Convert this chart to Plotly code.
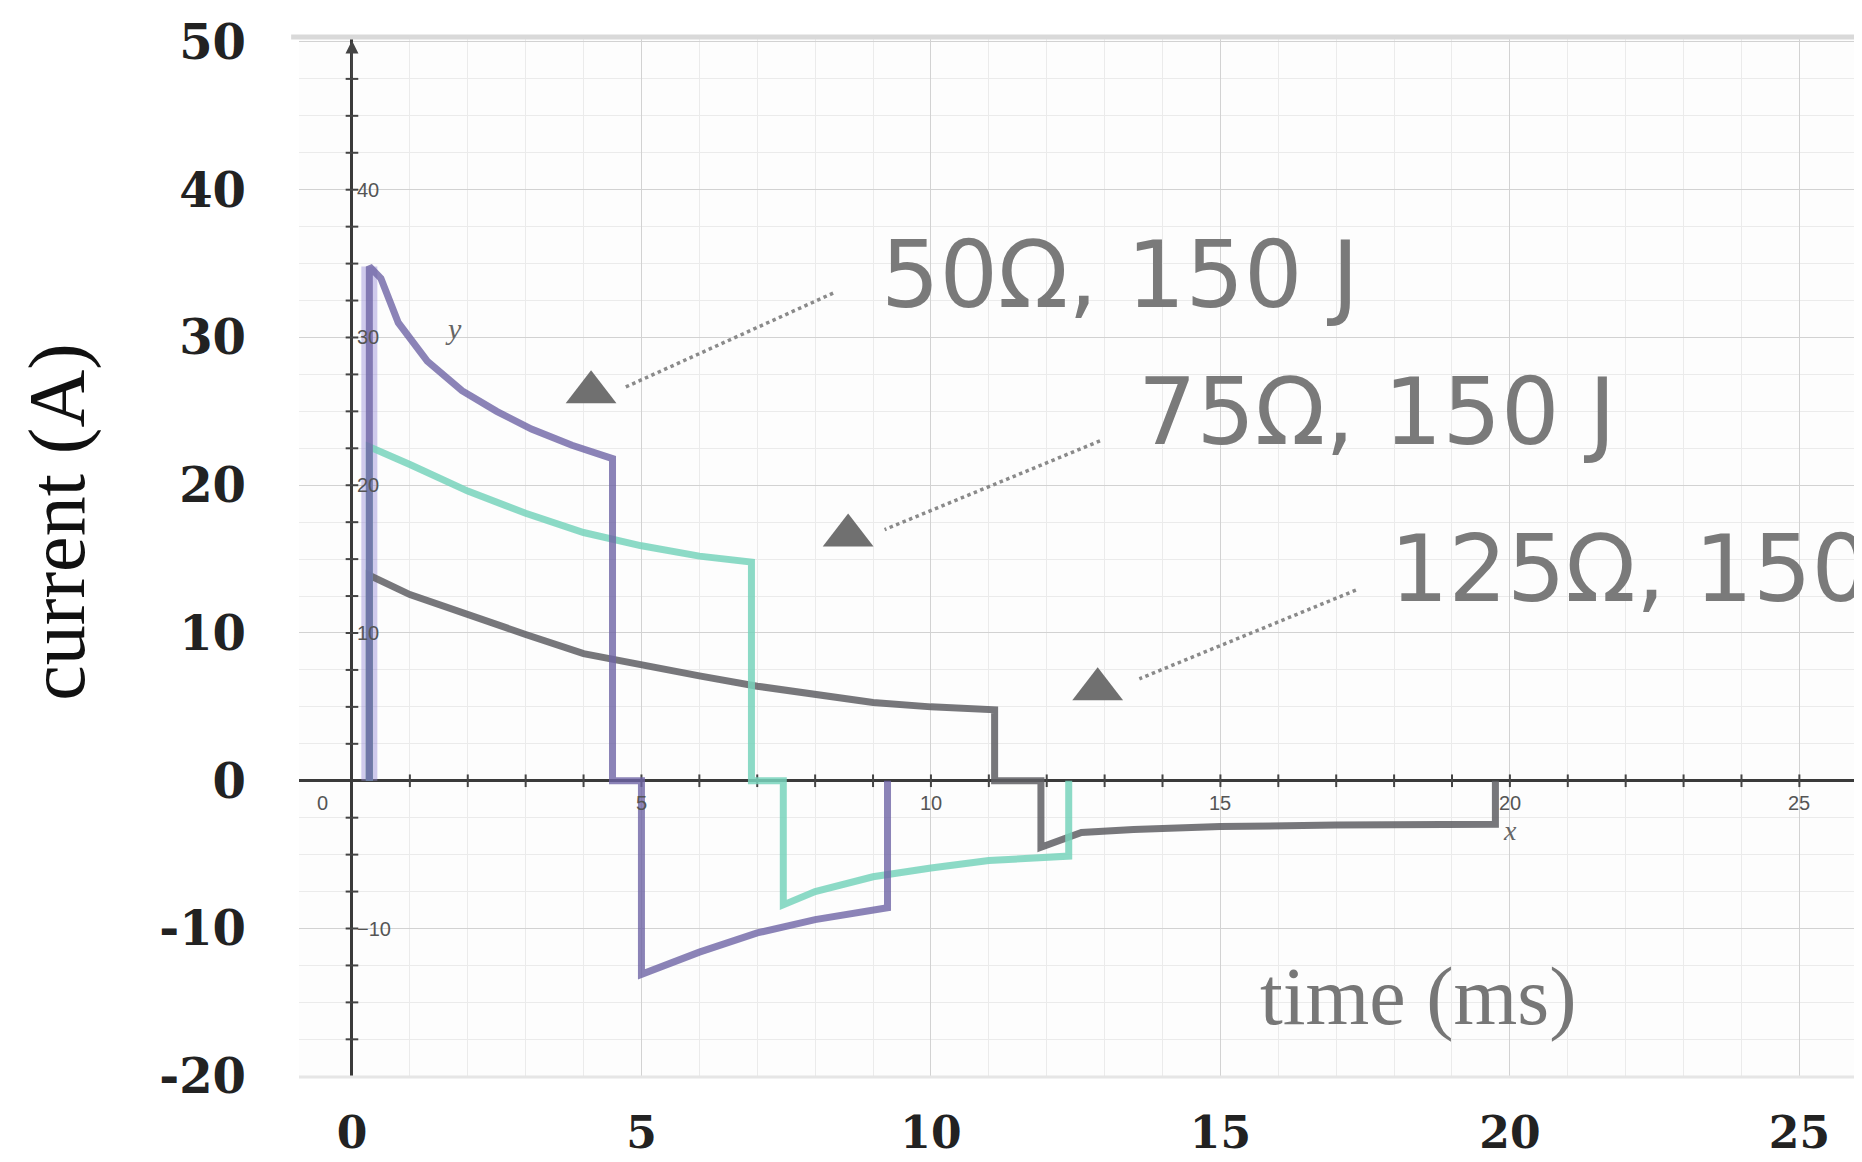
import plotly.graph_objects as go

# ---------------- data ----------------
t_50 = [0.3, 0.3, 0.5, 0.8, 1.3, 1.9, 2.5, 3.1, 3.8, 4.5, 4.5, 5.0, 5.0, 6.0, 7.0, 8.0, 9.25, 9.25]
i_50 = [0, 34.8, 34.0, 31.0, 28.4, 26.4, 25.0, 23.8, 22.7, 21.8, 0, 0, -13.1, -11.6, -10.3, -9.4, -8.6, 0]

t_75 = [0.3, 0.3, 1.0, 2.0, 3.0, 4.0, 5.0, 6.0, 6.9, 6.9, 7.45, 7.45, 8.0, 9.0, 10.0, 11.0, 12.38, 12.38]
i_75 = [0, 22.6, 21.4, 19.6, 18.1, 16.8, 15.9, 15.2, 14.8, 0, 0, -8.4, -7.5, -6.5, -5.9, -5.4, -5.1, 0]

t_125 = [0.3, 0.3, 1.0, 2.0, 3.0, 4.0, 5.0, 6.0, 7.0, 8.0, 9.0, 10.0, 11.1, 11.1, 11.9, 11.9,
         12.3, 12.6, 13.5, 15.0, 17.0, 19.75, 19.75]
i_125 = [0, 13.9, 12.6, 11.2, 9.9, 8.6, 7.8, 7.1, 6.4, 5.8, 5.3, 5.0, 4.8, 0, 0, -4.5,
         -3.9, -3.5, -3.3, -3.1, -3.0, -2.95, 0]

labels = ["50Ω, 150 J", "75Ω, 150 J", "125Ω, 150 J"]
label_x = [9.1, 13.55, 17.9]
label_y = [34.2, 24.9, 14.3]
arrow_start_x = [8.31, 12.92, 17.34]
arrow_start_y = [33.0, 23.0, 12.9]
arrow_end_x = [4.7, 9.2, 13.6]
arrow_end_y = [26.6, 17.0, 6.9]
head_x = [4.13, 8.57, 12.88]
head_y = [26.3, 16.6, 6.2]

outer_x_ticks = [0, 5, 10, 15, 20, 25]
outer_y_ticks = [-20, -10, 0, 10, 20, 30, 40, 50]
outer_y_text = ["-20", "-10", "0", "10", "20", "30", "40", "50"]
inner_x_ticks = [5, 10, 15, 20, 25]
inner_y_ticks = [40, 30, 20, 10, -10]
axis_tick_x = list(range(1, 27))
axis_tick_y = [-17.5, -15, -12.5, -10, -7.5, -5, -2.5, 2.5, 5, 7.5, 10, 12.5, 15, 17.5,
               20, 22.5, 25, 27.5, 30, 32.5, 35, 37.5, 40, 42.5, 45, 47.5]

x_title = "time (ms)"
y_title = "current (A)"

# ---------------- figure ----------------
fig = go.Figure()

# Desmos-style axis tick marks
fig.add_trace(go.Scatter(x=axis_tick_x, y=[0] * len(axis_tick_x), mode="markers",
                         marker=dict(symbol="line-ns-open", size=9, color="#444",
                                     line=dict(width=2, color="#444")),
                         hoverinfo="skip", showlegend=False))
fig.add_trace(go.Scatter(x=[0] * len(axis_tick_y), y=axis_tick_y, mode="markers",
                         marker=dict(symbol="line-ew-open", size=9, color="#444",
                                     line=dict(width=2, color="#444")),
                         hoverinfo="skip", showlegend=False))

# curves
fig.add_trace(go.Scatter(x=t_50[:2], y=i_50[:2], mode="lines",
                         line=dict(color="rgba(150,140,215,0.45)", width=16),
                         hoverinfo="skip", showlegend=False))
fig.add_trace(go.Scatter(x=t_125, y=i_125, mode="lines", name=labels[2],
                         line=dict(color="rgba(95,95,100,0.85)", width=7), showlegend=False))
fig.add_trace(go.Scatter(x=t_75, y=i_75, mode="lines", name=labels[1],
                         line=dict(color="rgba(120,212,188,0.85)", width=7), showlegend=False))
fig.add_trace(go.Scatter(x=t_50, y=i_50, mode="lines", name=labels[0],
                         line=dict(color="rgba(110,100,165,0.8)", width=7), showlegend=False))

# callout arrows (dotted line + triangle head)
for k in range(3):
    fig.add_trace(go.Scatter(x=[arrow_start_x[k], arrow_end_x[k]], y=[arrow_start_y[k], arrow_end_y[k]],
                             mode="lines", line=dict(color="#8a8a8a", width=3.5, dash="dot"),
                             hoverinfo="skip", showlegend=False))
fig.add_trace(go.Scatter(x=head_x, y=head_y, mode="markers",
                         marker=dict(symbol="triangle-up", size=44, color="#707070"),
                         hoverinfo="skip", showlegend=False))

annotations = []
for k in range(3):
    annotations.append(dict(x=label_x[k], y=label_y[k], xref="x", yref="y", text=labels[k],
                            showarrow=False, xanchor="left", yanchor="middle",
                            font=dict(family="DejaVu Sans", size=92, color="#7a7a7a")))

# inner (Desmos) tick labels
inner_font = dict(family="Liberation Sans", size=20, color="#555")
annotations.append(dict(x=0, y=0, xref="x", yref="y", text="0", showarrow=False,
                        xanchor="right", yanchor="top", xshift=-22, yshift=-9, font=inner_font))
for v in inner_x_ticks:
    annotations.append(dict(x=v, y=0, xref="x", yref="y", text=str(v), showarrow=False,
                            xanchor="center", yanchor="top", yshift=-9, font=inner_font))
for v in inner_y_ticks:
    annotations.append(dict(x=0, y=v, xref="x", yref="y", text=str(v).replace("-", "−"), showarrow=False,
                            xanchor="left", yanchor="middle", xshift=3, font=inner_font))
# axis letters
annotations.append(dict(x=1.75, y=30.6, xref="x", yref="y", text="<i>y</i>", showarrow=False,
                        font=dict(family="Liberation Serif", size=30, color="#666")))
annotations.append(dict(x=20.0, y=-3.4, xref="x", yref="y", text="<i>x</i>", showarrow=False,
                        font=dict(family="Liberation Serif", size=28, color="#666")))
# arrow at top of y axis
annotations.append(dict(x=0, y=50.1, ax=0, ay=47.5, xref="x", yref="y", axref="x", ayref="y",
                        text="", showarrow=True, arrowhead=2, arrowsize=1.3, arrowwidth=2,
                        arrowcolor="#444"))
# titles
plot_left = 291
plot_width = 1862 - plot_left
annotations.append(dict(x=18.43, y=-14.6, xref="x", yref="y", text=x_title, showarrow=False,
                        font=dict(family="Liberation Serif", size=82, color="#777")))
annotations.append(dict(x=(50 - plot_left) / plot_width, y=0.535, xref="paper", yref="paper",
                        text=y_title, showarrow=False, textangle=-90,
                        xanchor="center", yanchor="middle",
                        font=dict(family="Liberation Serif", size=80, color="#111")))

fig.update_layout(
    width=1862, height=1162,
    margin=dict(l=plot_left, r=0, t=31, b=93),
    paper_bgcolor="white", plot_bgcolor="#fdfdfd",
    annotations=annotations,
    shapes=[
        dict(type="line", xref="paper", yref="paper", x0=-0.005, x1=1, y0=1.002, y1=1.002,
             line=dict(color="#d9d9d9", width=5)),
        dict(type="line", xref="paper", yref="paper", x0=0, x1=1, y0=0, y1=0,
             line=dict(color="#e6e6e6", width=3)),
    ],
)

fig.update_xaxes(
    range=[-0.915, 26.22], tickvals=outer_x_ticks, ticktext=[str(v) for v in outer_x_ticks],
    ticks="", ticklabelstandoff=26,
    tickfont=dict(family="DejaVu Serif", size=44, color="#222", weight="bold"),
    showgrid=True, gridcolor="#d2d2d2", gridwidth=1.3,
    minor=dict(dtick=1, tick0=0, showgrid=True, gridcolor="#ebebeb", gridwidth=1),
    zeroline=True, zerolinecolor="#3a3a3a", zerolinewidth=2.5,
    showline=False, fixedrange=True,
)
fig.update_yaxes(
    range=[-20.05, 50.2], tickvals=outer_y_ticks, ticktext=outer_y_text,
    ticks="", ticklabelstandoff=52,
    tickfont=dict(family="DejaVu Serif", size=48, color="#222", weight="bold"),
    showgrid=True, gridcolor="#d2d2d2", gridwidth=1.3,
    minor=dict(dtick=2.5, tick0=0, showgrid=True, gridcolor="#ebebeb", gridwidth=1),
    zeroline=True, zerolinecolor="#3a3a3a", zerolinewidth=2.5,
    showline=False, fixedrange=True,
)

fig.write_html("out.html")
